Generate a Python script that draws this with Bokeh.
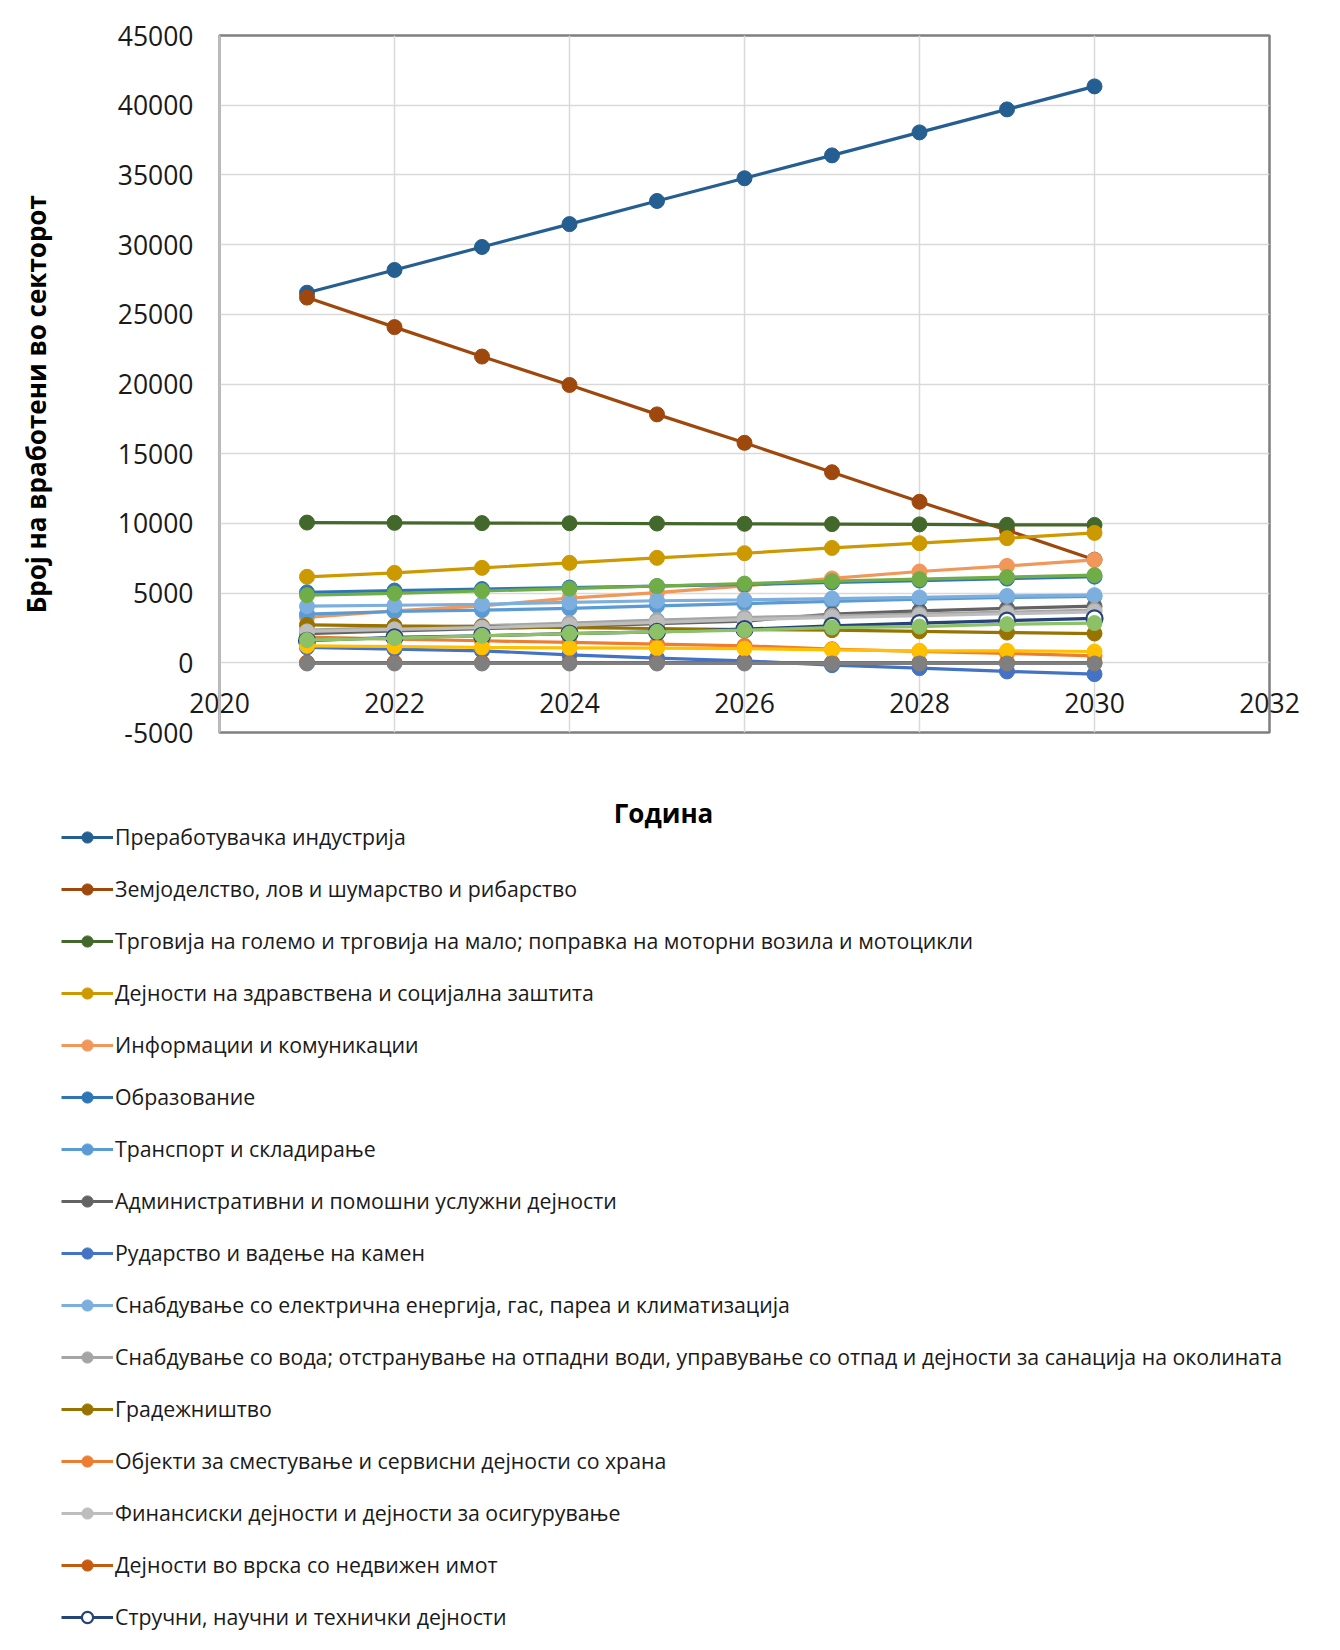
from bokeh.plotting import figure
from bokeh.models import Range1d, FixedTicker, Legend, LegendItem, Label, PrintfTickFormatter
from bokeh.embed import file_html
from bokeh.resources import INLINE

# ---------------- data ----------------
years = [2021, 2022, 2023, 2024, 2025, 2026, 2027, 2028, 2029, 2030]
x_ticks = [2020, 2022, 2024, 2026, 2028, 2030, 2032]
y_ticks = [-5000, 0, 5000, 10000, 15000, 20000, 25000, 30000, 35000, 40000, 45000]

manufacturing = [26550, 28180, 29830, 31470, 33130, 34760, 36400, 38050, 39700, 41350]
agriculture = [26200, 24080, 21970, 19930, 17820, 15780, 13670, 11550, 9510, 7400]
trade = [10060, 10040, 10020, 10010, 9990, 9970, 9950, 9930, 9900, 9890]
health = [6170, 6450, 6810, 7170, 7530, 7860, 8240, 8580, 8940, 9320]
ict = [3250, 3730, 4090, 4640, 5040, 5520, 6050, 6550, 6950, 7380]
education = [5050, 5180, 5290, 5400, 5500, 5620, 5760, 5900, 6040, 6180]
transport = [3490, 3680, 3780, 3900, 4090, 4250, 4400, 4560, 4690, 4760]
administrative = [2100, 2290, 2450, 2600, 2800, 2990, 3490, 3730, 3900, 4060]
mining = [1100, 980, 860, 570, 340, 140, -170, -380, -620, -810]
electricity = [4060, 4130, 4200, 4330, 4450, 4520, 4610, 4690, 4800, 4850]
water = [2340, 2530, 2650, 2850, 3060, 3250, 3370, 3490, 3630, 3780]
construction = [2720, 2650, 2600, 2530, 2460, 2380, 2340, 2260, 2170, 2100]
accommodation = [1850, 1700, 1580, 1460, 1340, 1220, 980, 810, 670, 500]
finance = [2250, 2400, 2520, 2700, 2900, 3100, 3250, 3380, 3520, 3660]
real_estate = [20, 20, 20, 20, 20, 20, 20, 20, 20, 20]
professional = [1580, 1820, 1940, 2100, 2220, 2410, 2650, 2850, 3020, 3180]
other_a = [4850, 4980, 5150, 5320, 5510, 5680, 5860, 6000, 6150, 6290]
other_b = [1220, 1170, 1100, 1070, 1050, 1020, 930, 860, 860, 810]
other_c = [1630, 1770, 1940, 2100, 2220, 2340, 2530, 2600, 2770, 2850]
other_d = [-50, -50, -50, -50, -50, -50, -50, -50, -50, -50]

names = [
    "Преработувачка индустрија",
    "Земјоделство, лов и шумарство и рибарство",
    "Трговија на големо и трговија на мало; поправка на моторни возила и мотоцикли",
    "Дејности на здравствена и социјална заштита",
    "Информации и комуникации",
    "Образование",
    "Транспорт и складирање",
    "Административни и помошни услужни дејности",
    "Рударство и вадење на камен",
    "Снабдување со електрична енергија, гас, пареа и климатизација",
    "Снабдување со вода; отстранување на отпадни води, управување со отпад и дејности за санација на околината",
    "Градежништво",
    "Објекти за сместување и сервисни дејности со храна",
    "Финансиски дејности и дејности за осигурување",
    "Дејности во врска со недвижен имот",
    "Стручни, научни и технички дејности",
]
series = [manufacturing, agriculture, trade, health, ict, education, transport,
          administrative, mining, electricity, water, construction, accommodation,
          finance, real_estate, professional, other_a, other_b, other_c, other_d]
colors = ["#255E91", "#9E480E", "#43682B", "#CC9A00", "#F1975A", "#2E75B6", "#5B9BD5",
          "#636363", "#4472C4", "#7CAFDD", "#A5A5A5", "#997300", "#ED7D31", "#BDBDBD",
          "#C55A11", "#264478", "#70AD47", "#FFC000", "#8CC168", "#7F7F7F"]

FONT = "Open Sans"
TXT = "#1A1A1A"
# trailing no-break spaces nudge the centred, rotated axis title downwards as in the original
Y_TITLE = "Број на вработени во секторот" + "\u00a0" * 6


def draw_series(fig):
    out = []
    for i, (vals, col) in enumerate(zip(series, colors)):
        lr = fig.line(years, vals, line_color=col, line_width=3.2)
        if i == 15:
            sr = fig.scatter(years, vals, size=16, fill_color="white",
                             line_color=col, line_width=2.2)
        else:
            sr = fig.scatter(years, vals, size=15, fill_color=col, line_color=col)
        out.append([lr, sr])
    return out


# ---------------- chart ----------------
p = figure(width=1324, height=760, x_range=Range1d(2020, 2032), y_range=Range1d(-5000, 45000),
           output_backend="svg", toolbar_location=None,
           min_border_left=219, min_border_right=55, min_border_top=35, min_border_bottom=28)
p.background_fill_color = "white"
p.border_fill_color = "white"
p.outline_line_color = "#7F7F7F"
p.outline_line_width = 2.5

xa = p.xaxis[0]
xa.ticker = FixedTicker(ticks=x_ticks)
xa.axis_line_color = None
xa.major_tick_line_color = None
xa.minor_tick_line_color = None
xa.major_tick_out = 0
xa.major_label_standoff = -40
xa.major_label_text_font = FONT
xa.major_label_text_font_size = "26.5px"
xa.major_label_text_color = TXT

ya = p.yaxis[0]
ya.ticker = FixedTicker(ticks=y_ticks)
ya.formatter = PrintfTickFormatter(format="%d")
ya.axis_line_color = "#BFBFBF"
ya.axis_line_width = 2.5
ya.major_tick_line_color = None
ya.minor_tick_line_color = None
ya.major_tick_out = 0
ya.major_label_standoff = 26
ya.major_label_text_font = FONT
ya.major_label_text_font_size = "26.5px"
ya.major_label_text_color = TXT
ya.axis_label = Y_TITLE
ya.axis_label_text_font = FONT
ya.axis_label_text_font_style = "bold"
ya.axis_label_text_font_size = "26px"
ya.axis_label_text_color = "#000000"
ya.axis_label_standoff = 61

p.xgrid.grid_line_color = "#D9D9D9"
p.xgrid.grid_line_width = 1.5
p.ygrid.grid_line_color = "#D9D9D9"
p.ygrid.grid_line_width = 1.5

draw_series(p)

# ---------------- x title + legend panel (series drawn outside its visible range) ----------------
LH = 885
lf = figure(width=1324, height=LH, x_range=Range1d(0, 1), y_range=Range1d(0, 1),
            output_backend="svg", toolbar_location=None,
            x_axis_location=None, y_axis_location=None,
            min_border_left=0, min_border_right=0, min_border_top=0, min_border_bottom=0)
lf.outline_line_color = None
lf.grid.visible = False
lf.background_fill_color = "white"
lf.border_fill_color = "white"
lrs = draw_series(lf)

x_title = Label(x=663, y=LH - 52, x_units="screen", y_units="screen", text="Година",
                text_align="center", text_baseline="middle",
                text_font=FONT, text_font_size="26px", text_font_style="bold",
                text_color="#000000")
lf.add_layout(x_title)

items = [LegendItem(label=names[i], renderers=lrs[i]) for i in range(len(names))]
legend = Legend(items=items, location=(61, 14), margin=0, padding=0,
                glyph_width=52, glyph_height=28, label_height=28, label_standoff=2,
                spacing=23, border_line_color=None, background_fill_alpha=0,
                label_text_font=FONT, label_text_font_size="21.3px", label_text_color=TXT)
lf.add_layout(legend)

open("out.html", "w").write(file_html([p, lf], INLINE))
